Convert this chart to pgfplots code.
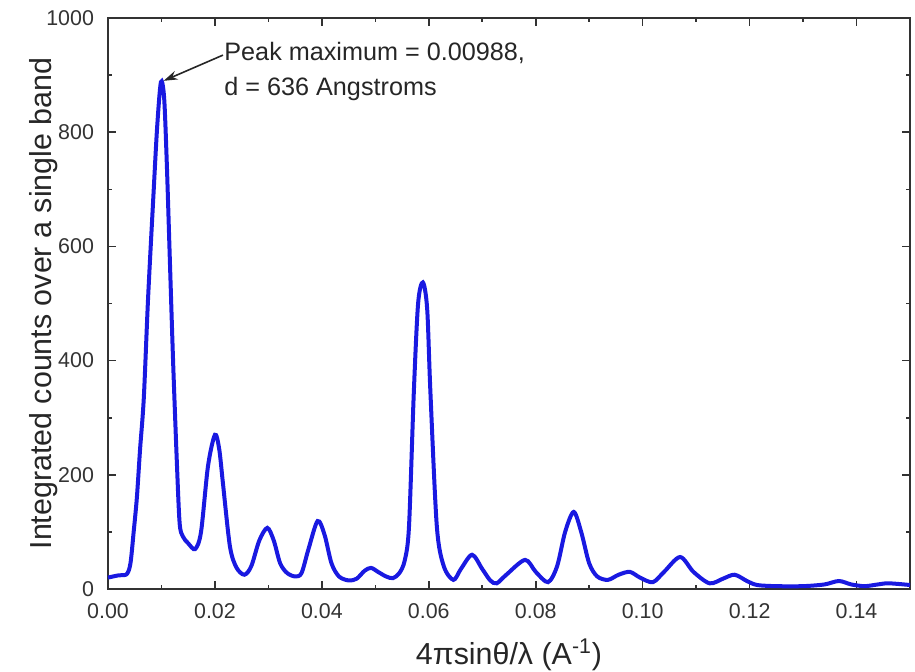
\documentclass[border=0pt]{standalone}
\usepackage{fontspec}
\setmainfont{Liberation Sans}
\usepackage{pgfplots}
\pgfplotsset{compat=1.18}
\usetikzlibrary{arrows.meta}
\definecolor{curveblue}{RGB}{25,25,225}
\definecolor{axgray}{RGB}{50,50,50}
\begin{document}
\begin{tikzpicture}
\useasboundingbox (-54pt,-41pt) rectangle (403.5pt,294.5pt);
\begin{axis}[
  scale only axis,
  width=401pt, height=285.5pt,
  xmin=0, xmax=0.15, ymin=0, ymax=1000,
  xtick={0,0.02,...,0.141},
  minor x tick num=1,
  ytick={0,200,...,1000},
  minor y tick num=1,
  tick align=inside,
  major tick length=4pt, minor tick length=2.2pt,
  axis line style={axgray, line width=1pt},
  every tick/.style={axgray, line width=0.8pt},
  /pgf/number format/assume math mode=true,
  ticklabel style={font=\fontsize{10.7}{12}\selectfont, text=black!80},
  x tick label style={yshift=-3.5pt, /pgf/number format/fixed, /pgf/number format/fixed zerofill, /pgf/number format/precision=2},
  y tick label style={xshift=-3.5pt, /pgf/number format/fixed, /pgf/number format/precision=0, /pgf/number format/1000 sep={}},
  scaled x ticks=false,
  xlabel={4πsinθ/λ (A\textsuperscript{-1})},
  ylabel={Integrated counts over a single band},
  label style={font=\fontsize{15.2}{18}\selectfont, text=black!85},
  xlabel style={yshift=-3.5pt},
  ylabel style={yshift=-12.5pt},
  clip=false,
]
\addplot[curveblue, line width=2pt, smooth, tension=0.5] coordinates {
(0.000,20) (0.002,24) (0.0035,26) (0.0042,45) (0.0048,100) (0.0054,160)
(0.0060,245) (0.0067,335) (0.0075,510) (0.0085,690) (0.0092,810) (0.0099,888)
(0.0105,860) (0.0110,745) (0.0116,567) (0.0122,392) (0.0129,217) (0.0134,115)
(0.0140,92) (0.0150,80) (0.0163,70) (0.0174,100) (0.0187,215) (0.0200,270)
(0.0208,245) (0.0215,185) (0.0228,75) (0.0240,38) (0.0255,25) (0.0268,40)
(0.0283,85) (0.0298,107) (0.0310,85) (0.0322,45) (0.0335,28) (0.0350,22)
(0.0362,28) (0.0375,70) (0.0392,119) (0.0405,95) (0.0418,45) (0.0432,22)
(0.0450,15) (0.0465,18) (0.0480,32) (0.0492,37) (0.0505,30) (0.0520,22)
(0.0533,19) (0.0545,28) (0.0555,50) (0.0563,110) (0.0572,345) (0.0580,500)
(0.0589,537) (0.0597,490) (0.0603,345) (0.0615,110) (0.0628,40) (0.0646,16)
(0.0660,35) (0.0681,60) (0.0700,35) (0.0715,15) (0.0727,10) (0.0745,25)
(0.0780,51) (0.0800,30) (0.0823,12) (0.0840,40) (0.0855,100) (0.0871,135)
(0.0885,100) (0.0900,45) (0.0915,22) (0.0935,16) (0.0955,25) (0.0976,30)
(0.0995,20) (0.1019,12) (0.1040,30) (0.1070,56) (0.1095,30) (0.1125,10)
(0.1150,18) (0.1172,25) (0.1195,14) (0.1214,7) (0.1250,5) (0.1300,5)
(0.1340,8) (0.1367,14) (0.1390,8) (0.1415,5) (0.1440,8) (0.1460,10)
(0.1500,7)
};
\draw[black!85, line width=0.8pt, -{Stealth[length=7pt,width=4.5pt]}]
  (axis cs:0.0215,935) -- (axis cs:0.0104,890);
\node[anchor=north west, inner sep=0pt, align=left,
      font=\fontsize{12.6}{17.5}\selectfont, text=black!85]
  at (axis cs:0.0217,958) {Peak maximum = 0.00988,\\d = 636 Angstroms};
\end{axis}
\end{tikzpicture}
\end{document}
